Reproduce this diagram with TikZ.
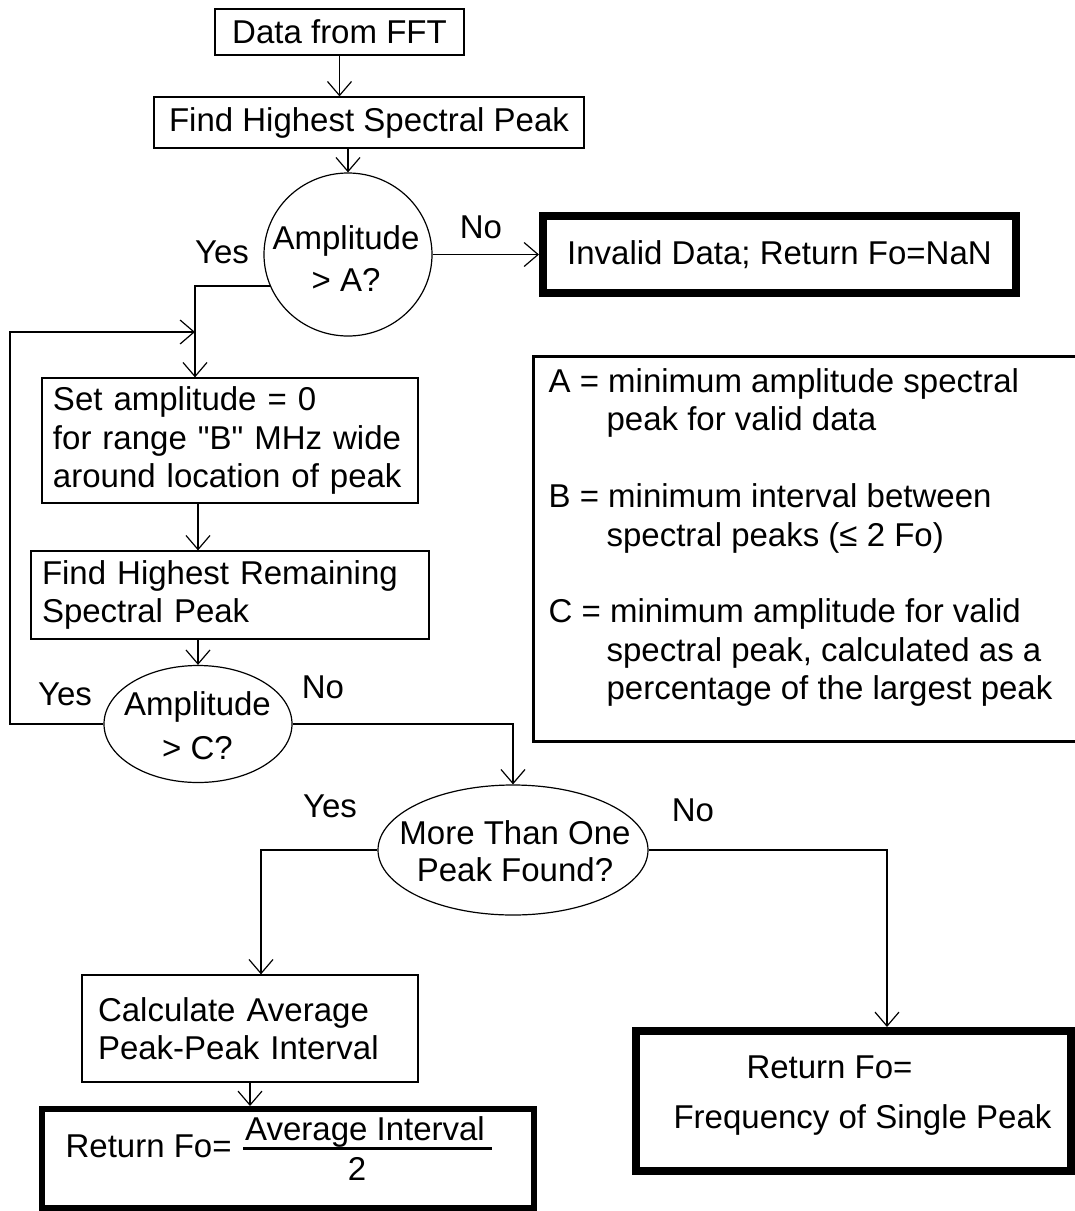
\documentclass[tikz,border=0pt]{standalone}
\usepackage{fontspec}
\setmainfont{Liberation Sans}[Ligatures=TeXOff]
\usetikzlibrary{arrows.meta,shapes.geometric}

\begin{document}
\begin{tikzpicture}[x=0.5pt,y=-0.5pt,
  font=\fontsize{16.5pt}{19.2pt}\selectfont,
  line width=0.6pt,
  arr/.style={-{Straight Barb[length=7pt,width=12pt]}},
  box/.style={draw, rectangle, inner sep=0pt},
  leftbox/.style={draw, rectangle, align=left, inner ysep=0pt},
  endbox/.style={draw, rectangle, line width=4pt, inner sep=0pt},
  oval/.style={draw, ellipse, inner sep=0pt},
  lbl/.style={inner sep=0pt, align=center},
  txt/.style={inner sep=0pt},
]
\useasboundingbox (0,0) rectangle (1075,1211);

% --- main flow ---
\node[box, minimum width=124.5pt, minimum height=23pt] (data) at (339.5,32) {Data from FFT};
\node[box, minimum width=215pt, minimum height=25.5pt] (find) at (369,122.5) {Find Highest Spectral Peak};

\node[oval, minimum width=84pt, minimum height=81.5pt] (A) at (348,254.5) {};
\node[lbl] (Atxt) at (346,258.5) {Amplitude\\[1.8pt]> A?};

\node[endbox, minimum width=236.5pt, minimum height=38.5pt] (inv) at (779.5,254.5) {Invalid Data; Return Fo=NaN};

\node[leftbox, minimum width=188pt, minimum height=62.5pt, text width=177pt, inner xsep=5.5pt] (setb) at (230,440.5)
  {Set amplitude = 0\\for range "B" MHz wide\\around location of peak};
\node[leftbox, minimum width=199pt, minimum height=44pt, text width=188pt, inner xsep=5.5pt] (frem) at (230,595)
  {Find Highest Remaining\\Spectral Peak};

\node[oval, minimum width=94pt, minimum height=58.5pt] (C) at (198,724) {};
\node[lbl] (Ctxt) at (197.5,726) {Amplitude\\[2.8pt]> C?};

\node[oval, minimum width=135pt, minimum height=65pt] (M) at (513,850) {};
\node[lbl] (Mtxt) at (515,851) {More Than One\\[-0.7pt]Peak Found?};

\node[leftbox, minimum width=168pt, minimum height=53.5pt, text width=152pt, inner xsep=8pt] (calc) at (250,1028.5)
  {Calculate Average\\Peak-Peak Interval};

% --- terminal boxes ---
\node[endbox, line width=3pt, minimum width=246pt, minimum height=49.5pt] (ret1) at (288,1158.5) {};
\node[txt, anchor=base west] (ret1a) at (65,1157) {Return Fo=};
\node[txt, anchor=base] (num) at (365,1140) {Average Interval};
\node[txt, anchor=base] (den) at (357,1180) {2};
\coordinate (barL) at (243,1148);
\coordinate (barR) at (492,1148);
\draw[line width=1.5pt] (barL) -- (barR);

\node[endbox, minimum width=217.5pt, minimum height=70pt] (ret2) at (853.5,1101) {};
\node[txt, anchor=base] (ret2a) at (829.5,1078) {Return Fo=};
\node[txt, anchor=base] (ret2b) at (862.5,1128) {Frequency of Single Peak};

% --- legend ---
\node[draw, line width=1.5pt, minimum width=271.75pt, minimum height=192.25pt, inner sep=0pt] (legend) at (805.25,548.75) {};
\node[txt, align=left, anchor=north west] (legtxt) at (548,368)
  {A = minimum amplitude spectral\\\hspace*{29pt}peak for valid data\\[19.2pt]%
   B = minimum interval between\\\hspace*{29pt}spectral peaks (≤ 2 Fo)\\[19.2pt]%
   C = minimum amplitude for valid\\\hspace*{29pt}spectral peak, calculated as a\\\hspace*{29pt}percentage of the largest peak};

% --- branch labels ---
\node[txt, anchor=base] (yesA) at (222,263) {Yes};
\node[txt, anchor=base] (noA) at (481,238) {No};
\node[txt, anchor=base] (yesC) at (65,705) {Yes};
\node[txt, anchor=base] (noC) at (323,698) {No};
\node[txt, anchor=base] (yesM) at (330,817) {Yes};
\node[txt, anchor=base] (noM) at (693,821) {No};

% --- routing points ---
\coordinate (colA) at (195,332);
\coordinate (loopx) at (10,332);
\coordinate (colC) at (261,0);
\coordinate (colD) at (887,0);

% --- connectors ---
\draw[arr] (data.south) -- (data.south |- find.north);
\draw[arr] (A.north |- find.south) -- (A.north);
\draw[arr] (A.east) -- (inv.west);
\draw[arr] (A.202) -| (colA |- setb.north);
\draw[arr] (C.west) -| (loopx) |- (colA);
\draw[arr] (setb.south -| C.north) -- (frem.north -| C.north);
\draw[arr] (frem.south -| C.north) -- (C.north);
\draw[arr] (C.east) -| (M.north);
\draw[arr] (M.west) -| (colC |- calc.north);
\draw[arr] (M.east) -| (colD |- ret2.north);
\draw[arr] (calc.south) -- (calc.south |- ret1.north);
\end{tikzpicture}
\end{document}
